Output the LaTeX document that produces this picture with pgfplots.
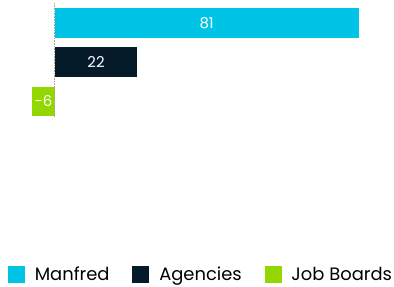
\documentclass[border=0pt]{standalone}
\usepackage{fontspec}
\setmainfont{Poppins}
\usepackage{pgfplots}
\pgfplotsset{compat=1.18}
\definecolor{cManfred}{RGB}{0,196,230}
\definecolor{cAgency}{RGB}{6,27,41}
\definecolor{cJob}{RGB}{148,214,0}
\begin{document}
\begin{tikzpicture}
\begin{axis}[
  scale only axis, width=394pt, height=288pt,
  xmin=-14.6, xmax=89.9, ymin=-4.709, ymax=2.582,
  axis lines=none, ticks=none, clip=false,
  xbar, bar width=30pt, bar shift=0pt,
  legend columns=-1,
  legend style={draw=none, fill=none, at={(0.5,0)}, anchor=south, yshift=2pt, xshift=5pt, inner sep=0pt,
    font=\fontsize{18}{20}\selectfont,
    /tikz/every odd column/.append style={column sep=8pt},
    /tikz/every even column/.append style={column sep=21pt}},
  legend image code/.code={\fill[#1] (0pt,-8.5pt) rectangle (17pt,8.5pt);},
]
\path (rel axis cs:0,0) (rel axis cs:1,1);
\addplot[draw=none, fill=cManfred] coordinates {(81,2)};
\addlegendentry{Manfred}
\addplot[draw=none, fill=cAgency] coordinates {(22,1)};
\addlegendentry{Agencies}
\addplot[draw=none, fill=cJob] coordinates {(-6,0)};
\addlegendentry{Job Boards}
\addplot[forget plot, draw=none, xbar=0pt, fill=none, bar width=0pt, nodes near coords, point meta=explicit symbolic,
  every node near coord/.style={anchor=center, text=white, font=\fontsize{15}{17}\selectfont}]
  coordinates {(40.5,2) [81] (11,1) [22] (-3,0) [-6]};
\addplot[forget plot, xbar=0pt, sharp plot, gray!70, densely dotted, line width=0.6pt] coordinates {(0,2.506) (0,-0.38)};
\end{axis}
\end{tikzpicture}
\end{document}
